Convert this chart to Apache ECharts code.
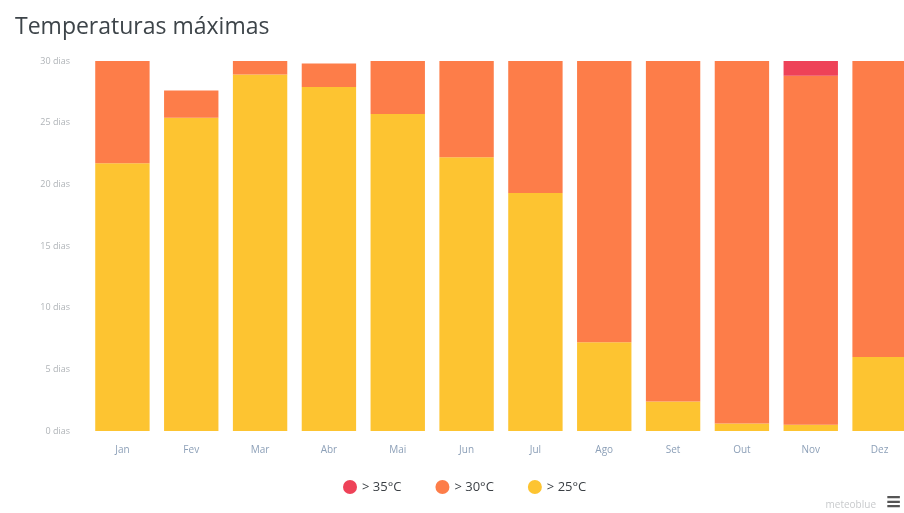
<!DOCTYPE html>
<html>
<head>
<meta charset="utf-8">
<script src="https://cdn.jsdelivr.net/npm/echarts@6/dist/echarts.min.js"></script>
<style>
  html, body { margin: 0; padding: 0; background: #fff; overflow: hidden; }
  #chart { width: 914px; height: 513px; }
</style>
</head>
<body>
<div id="chart"></div>
<script>
const months = ['Jan', 'Fev', 'Mar', 'Abr', 'Mai', 'Jun', 'Jul', 'Ago', 'Set', 'Out', 'Nov', 'Dez'];
// days per month, stacked
const above25 = [21.7, 25.4, 28.9, 27.9, 25.7, 22.2, 19.3, 7.2, 2.4, 0.6, 0.5, 6.0];
const above30 = [8.3, 2.2, 1.1, 1.9, 4.3, 7.8, 10.7, 22.8, 27.6, 29.4, 28.3, 24.0];
const above35 = [0, 0, 0, 0, 0, 0, 0, 0, 0, 0, 1.2, 0];
const yTicks = [0, 5, 10, 15, 20, 25, 30];

let myChart = echarts.init(document.getElementById('chart'));

let option = {
  animation: false,
  title: {
    text: 'Temperaturas máximas',
    left: 10, top: 11,
    textStyle: { fontFamily: 'Open Sans', fontSize: 23, fontWeight: 'normal', color: '#3d4449' }
  },
  grid: { left: 88, right: 0, top: 61, bottom: 82 },
  legend: {
    bottom: 14, left: 338,
    icon: 'circle', itemWidth: 14, itemHeight: 14, itemGap: 34,
    textStyle: { fontFamily: 'Open Sans', fontSize: 13, color: '#3a3f44' },
    data: ['> 35°C', '> 30°C', '> 25°C']
  },
  xAxis: {
    type: 'category',
    data: months,
    axisLine: { show: false },
    axisTick: { show: false },
    axisLabel: { color: '#8da0b8', fontFamily: 'Open Sans', fontSize: 10, margin: 14 }
  },
  yAxis: {
    type: 'value',
    min: 0, max: 30, interval: 5,
    splitLine: { show: false },
    axisLabel: {
      color: '#b0b4b8', fontFamily: 'Open Sans', fontSize: 9, margin: 18,
      formatter: v => yTicks.includes(v) ? v + ' dias' : ''
    }
  },
  series: [
    { name: '> 25°C', type: 'bar', stack: 't', data: above25, barCategoryGap: '21%', itemStyle: { color: '#fdc431' } },
    { name: '> 30°C', type: 'bar', stack: 't', data: above30, itemStyle: { color: '#fd7d49' } },
    { name: '> 35°C', type: 'bar', stack: 't', data: above35, itemStyle: { color: '#ee4258' } }
  ],
  graphic: [
    { type: 'text', right: 38, bottom: 3, style: { text: 'meteoblue', fill: '#c8cacc', font: '10px "Open Sans"' } },
    { type: 'text', right: 12, bottom: 0, style: { text: '≡', fill: '#555', font: 'bold 20px "DejaVu Sans"' } }
  ]
};

option && myChart.setOption(option, false);
</script>
</body>
</html>
